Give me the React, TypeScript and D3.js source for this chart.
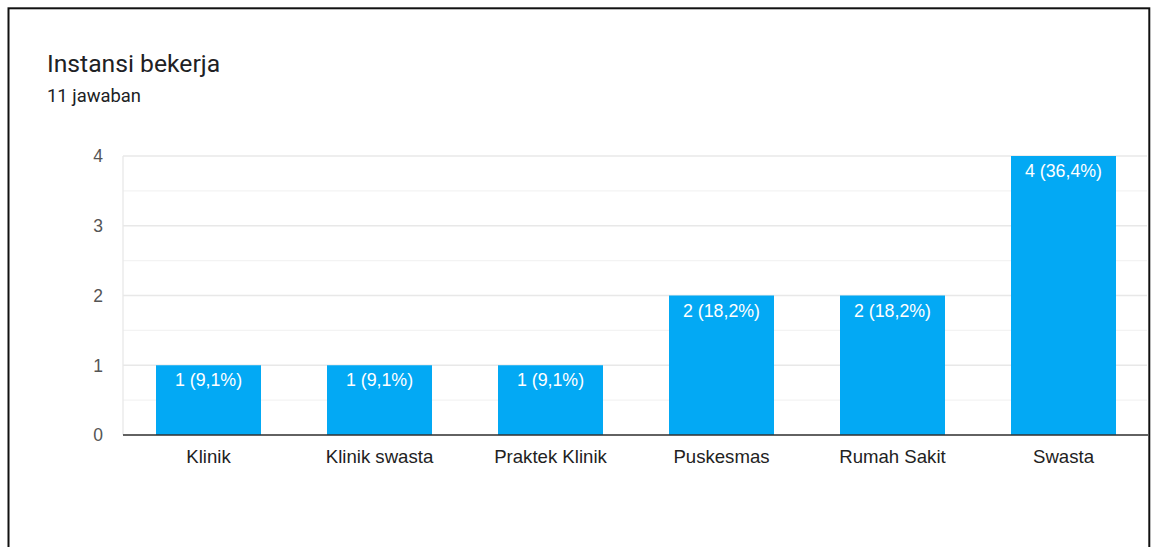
import React from "react";
import * as d3 from "d3";

const categories = ["Klinik", "Klinik swasta", "Praktek Klinik", "Puskesmas", "Rumah Sakit", "Swasta"];
const counts = [1, 1, 1, 2, 2, 4];
const percentLabels = ["9,1%", "9,1%", "9,1%", "18,2%", "18,2%", "36,4%"];
const yTicks = [0, 1, 2, 3, 4];
const yMinorTicks = [0.5, 1.5, 2.5, 3.5];
const title = "Instansi bekerja";
const subtitle = "11 jawaban";

const W = 1155;
const H = 547;
const plot = { left: 123, right: 1149, top: 156, bottom: 435 };

export default function App() {
  const x = d3
    .scaleBand<string>()
    .domain(categories)
    .range([plot.left, plot.right])
    .paddingInner(0.386)
    .paddingOuter(0.193);
  const y = d3.scaleLinear().domain([0, 4]).range([plot.bottom, plot.top]);
  const barFont = "Arial, 'Liberation Sans', Helvetica, sans-serif";

  return (
    <svg
      width={W}
      height={H}
      style={{ position: "absolute", left: 0, top: 0, background: "#fff" }}
    >
      <rect x={0} y={0} width={W} height={H} fill="#fff" />
      <rect x={8.5} y={8.3} width={1140.8} height={600} fill="none" stroke="#111" strokeWidth={2} />

      <text x={47} y={72} fontFamily="Roboto, 'Noto Sans', sans-serif" fontSize={24.7} fill="#202124">
        {title}
      </text>
      <text x={47} y={102} fontFamily="Roboto, 'Noto Sans', sans-serif" fontSize={18.4} fill="#202124">
        {subtitle}
      </text>

      {yMinorTicks.map((t) => (
        <line key={"m" + t} x1={plot.left} x2={1147} y1={y(t)} y2={y(t)} stroke="#f3f3f3" strokeWidth={1.3} />
      ))}
      {yTicks.map((t) => (
        <line key={"g" + t} x1={plot.left} x2={1147} y1={y(t)} y2={y(t)} stroke="#e8e8e8" strokeWidth={1.3} />
      ))}
      <line x1={plot.left} x2={plot.left} y1={plot.top} y2={plot.bottom} stroke="#e8e8e8" strokeWidth={1.3} />

      {yTicks.map((t) => (
        <text
          key={"t" + t}
          x={103}
          y={y(t)}
          dy="0.36em"
          textAnchor="end"
          fontFamily={barFont}
          fontSize={17.5}
          fill="#555"
        >
          {t}
        </text>
      ))}

      {categories.map((c, i) => {
        const bx = x(c)!;
        const by = y(counts[i]);
        return (
          <g key={c}>
            <rect x={bx} y={by} width={x.bandwidth()} height={y(0) - by} fill="#03a9f4" />
            <text
              x={bx + x.bandwidth() / 2}
              y={by + 21}
              textAnchor="middle"
              fontFamily={barFont}
              fontSize={17.8}
              fill="#fff"
            >
              {`${counts[i]} (${percentLabels[i]})`}
            </text>
            <text
              x={bx + x.bandwidth() / 2}
              y={463}
              textAnchor="middle"
              fontFamily={barFont}
              fontSize={18.6}
              fill="#222"
            >
              {c}
            </text>
          </g>
        );
      })}

      <line x1={plot.left} x2={1148} y1={plot.bottom} y2={plot.bottom} stroke="#333" strokeWidth={1.6} />
    </svg>
  );
}
